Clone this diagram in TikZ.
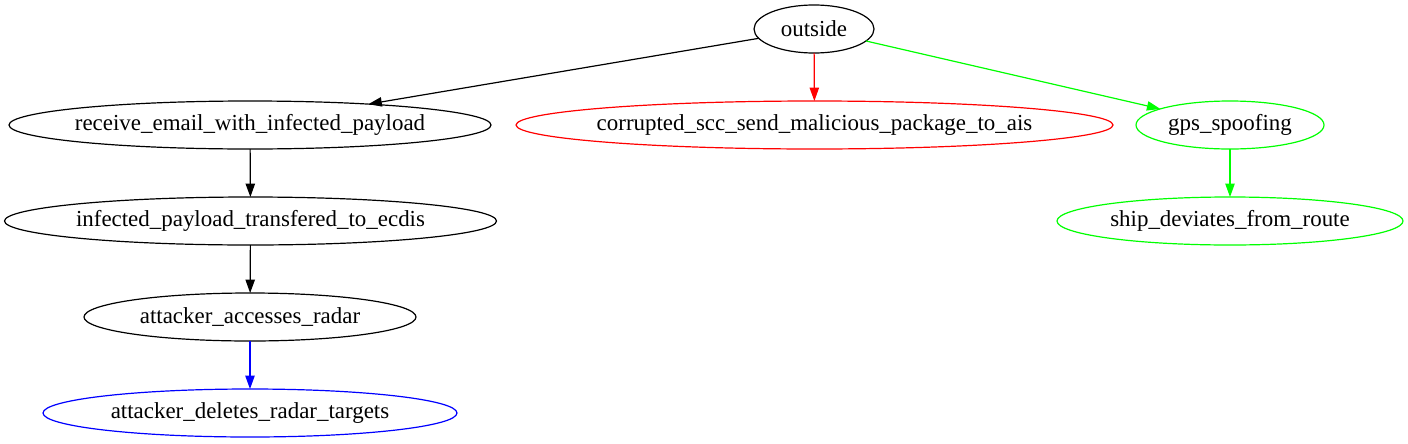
\documentclass[tikz,border=0pt]{standalone}
\usepackage{fontspec}
\setmainfont{Liberation Serif}
\usetikzlibrary{shapes.geometric,arrows.meta}
\definecolor{gvgreen}{RGB}{0,255,0}
\definecolor{gvred}{RGB}{255,0,0}
\definecolor{gvblue}{RGB}{0,0,255}
\newcommand{\gvlbl}[1]{\makebox[0pt]{#1}}
\begin{document}
\begin{tikzpicture}[x=0.75pt,y=-0.75pt,
  gvnode/.style={ellipse, draw, line width=0.9pt, inner sep=0pt, outer sep=0pt,
    minimum height=36pt, font=\fontsize{17.2}{19}\selectfont, text=black},
  gvedge/.style={line width=0.9pt, -{Triangle[length=10pt,width=7pt]}}]
\useasboundingbox (0,0) rectangle (1408,443);
\node[gvnode, minimum width=90pt] (outside) at (814,29) {\gvlbl{outside}};
\node[gvnode, minimum width=361.5pt] (receive) at (250,125) {\gvlbl{receive\_email\_with\_infected\_payload}};
\node[gvnode, draw=gvred, minimum width=447.75pt] (corrupted) at (814.5,125) {\gvlbl{corrupted\_scc\_send\_malicious\_package\_to\_ais}};
\node[gvnode, draw=gvgreen, minimum width=141pt] (gps) at (1230,125) {\gvlbl{gps\_spoofing}};
\node[gvnode, draw=gvgreen, minimum width=259.5pt] (ship) at (1230,221) {\gvlbl{ship\_deviates\_from\_route}};
\node[gvnode, minimum width=369pt] (infected) at (250.5,221) {\gvlbl{infected\_payload\_transfered\_to\_ecdis}};
\node[gvnode, minimum width=249pt] (accesses) at (250,317) {\gvlbl{attacker\_accesses\_radar}};
\node[gvnode, draw=gvblue, minimum width=310.5pt] (deletes) at (250,413) {\gvlbl{attacker\_deletes\_radar\_targets}};
\draw[gvedge] (outside) -- (receive.10);
\draw[gvedge, gvred] (outside) -- (corrupted);
\draw[gvedge, gvgreen] (outside) -- (gps);
\draw[gvedge] (receive) -- (infected);
\draw[gvedge] (infected) -- (accesses);
\draw[gvedge, gvblue] (accesses) -- (deletes);
\draw[gvedge, gvgreen] (gps) -- (ship);
\end{tikzpicture}
\end{document}
